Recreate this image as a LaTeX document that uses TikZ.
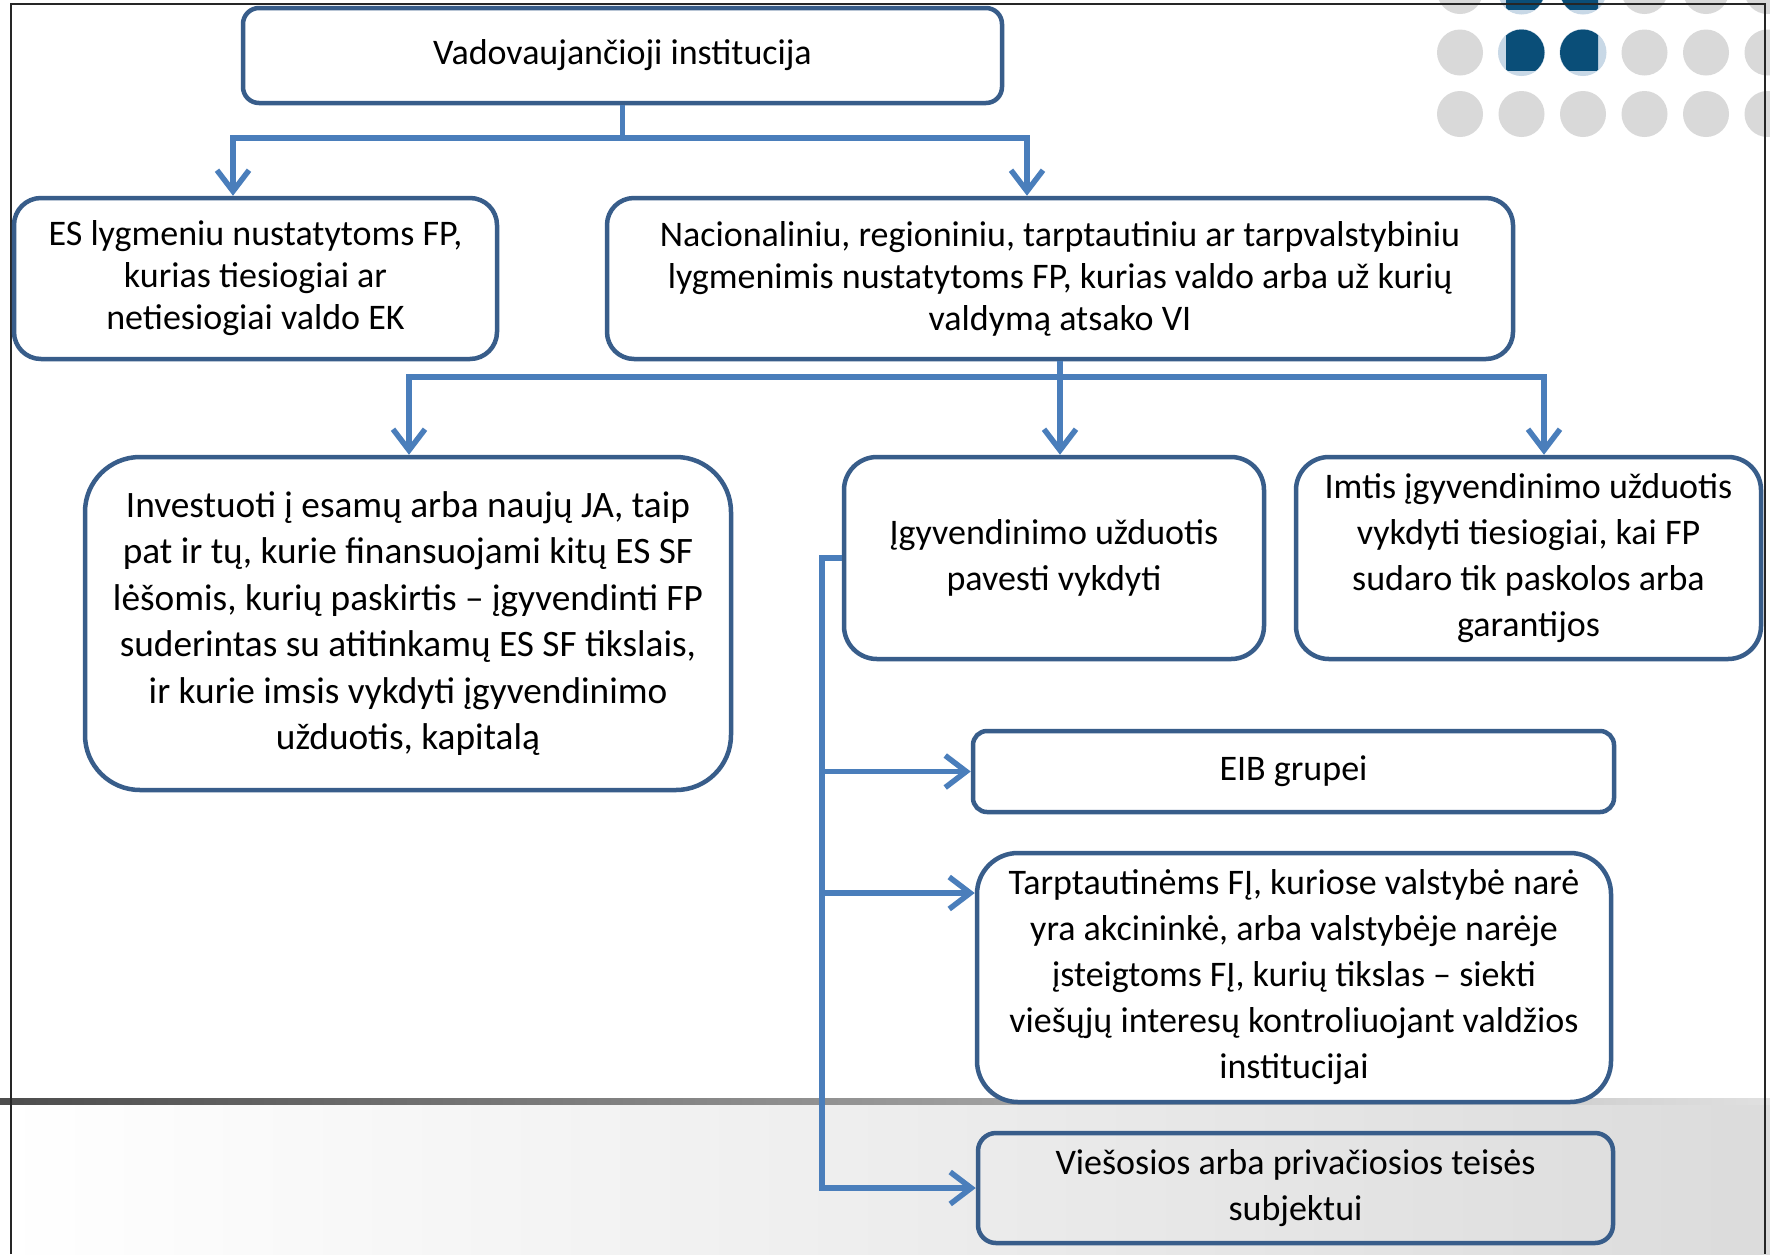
\documentclass[tikz,border=0pt]{standalone}
\usepackage{fontspec}
\setmainfont{Carlito}
\usetikzlibrary{arrows.meta}
\definecolor{boxblue}{RGB}{56,93,138}
\definecolor{connblue}{RGB}{74,126,187}
\definecolor{dotgray}{RGB}{217,217,217}
\definecolor{dotdark}{RGB}{10,78,120}
\definecolor{dotlight}{RGB}{200,216,230}
\tikzset{
  box/.style={draw=boxblue, line width=4.5pt, fill=white, align=center,
    inner sep=0pt, font=\fontsize{36}{46}\selectfont},
  tightbox/.style={box, font=\fontsize{36}{42}\selectfont},
  bigbox/.style={box, font=\fontsize{37.3}{46.5}\selectfont},
  conn/.style={draw=connblue, line width=5.5pt,
    -{Straight Barb[length=21pt,width=32pt]}}
}
\begin{document}
\begin{tikzpicture}[x=1pt,y=-1pt]
\useasboundingbox (0,0) rectangle (1770,1254);
% background
\fill[white] (0,0) rectangle (1770,1254);
\fill[left color=white, right color=black!14] (0,1101) rectangle (1770,1254);
\fill[left color=black!70, right color=black!12] (0,1098) rectangle (1770,1104);
% dots
\foreach \i in {0,...,5}{
  \foreach \j in {0,1,2}{
    \fill[dotgray] (1460+61.5*\i, -9+61.5*\j) circle (23);
  }
}
\foreach \i in {1,2}{
  \foreach \j in {0,1}{
    \fill[dotlight] (1460+61.5*\i, -9+61.5*\j) circle (23.5);
    \begin{scope}
      \clip (1506,-60+61.5*\j) rectangle (1598, 9+61.5*\j);
      \fill[dotdark] (1460+61.5*\i, -9+61.5*\j) circle (23);
    \end{scope}
  }
}
% frame
\draw[black!85, line width=1.3pt] (11,1254) -- (11,4) -- (1765,4) -- (1765,1254);

% boxes
\node[box, minimum width=759pt, minimum height=95pt, rounded corners=16pt] (top) at (622.5,55.5) {Vadovaujančioji institucija};
\node[tightbox, minimum width=483pt, minimum height=161pt, rounded corners=27pt] (es) at (255.5,278.5) {ES lygmeniu nustatytoms FP,\\kurias tiesiogiai ar\\netiesiogiai valdo EK};
\node[tightbox, minimum width=906pt, minimum height=161pt, rounded corners=27pt] (nac) at (1060,278.5) {Nacionaliniu, regioniniu, tarptautiniu ar tarpvalstybiniu\\lygmenimis nustatytoms FP, kurias valdo arba už kurių\\valdymą atsako VI};
\node[bigbox, minimum width=646pt, minimum height=333pt, rounded corners=55pt] (inv) at (408,623.5) {Investuoti į esamų arba naujų JA, taip\\pat ir tų, kurie finansuojami kitų ES SF\\lėšomis, kurių paskirtis – įgyvendinti FP\\suderintas su atitinkamų ES SF tikslais,\\ir kurie imsis vykdyti įgyvendinimo\\užduotis, kapitalą};
\node[box, minimum width=420pt, minimum height=202pt, rounded corners=33pt] (igy) at (1054,558) {Įgyvendinimo užduotis\\pavesti vykdyti};
\node[box, minimum width=465pt, minimum height=202pt, rounded corners=33pt] (imt) at (1528.5,558) {Imtis įgyvendinimo užduotis\\vykdyti tiesiogiai, kai FP\\sudaro tik paskolos arba\\garantijos};
\node[box, minimum width=641pt, minimum height=81pt, rounded corners=14pt] (eib) at (1293.5,771.5) {EIB grupei};
\node[box, minimum width=634pt, minimum height=249pt, rounded corners=41pt] (tar) at (1294,977.5) {Tarptautinėms FĮ, kuriose valstybė narė\\yra akcininkė, arba valstybėje narėje\\įsteigtoms FĮ, kurių tikslas – siekti\\viešųjų interesų kontroliuojant valdžios\\institucijai};
\node[box, fill=none, minimum width=635pt, minimum height=110pt, rounded corners=18pt] (vie) at (1295.5,1188) {Viešosios arba privačiosios teisės\\subjektui};

% connectors
\coordinate (a1) at (233,138);
\coordinate (a2) at (1027,138);
\draw[conn] (top.south) |- (a1) -- (a1 |- es.north);
\draw[conn] (top.south) |- (a2) -- (a2 |- nac.north);

\coordinate (b1) at (409,377);
\coordinate (b3) at (1544,377);
\draw[conn] (nac.south) |- (b1) -- (b1 |- inv.north);
\draw[conn] (nac.south) -- (nac.south |- igy.north);
\draw[conn] (nac.south) |- (b3) -- (b3 |- imt.north);

\coordinate (c0) at (822,558);
\coordinate (c2) at (822,893);
\draw[conn] (igy.west) -- (c0) |- (eib.west);
\draw[conn] (igy.west) -- (c0) |- (c2) -- (c2 -| tar.west);
\draw[conn] (igy.west) -- (c0) |- (vie.west);
\end{tikzpicture}
\end{document}
